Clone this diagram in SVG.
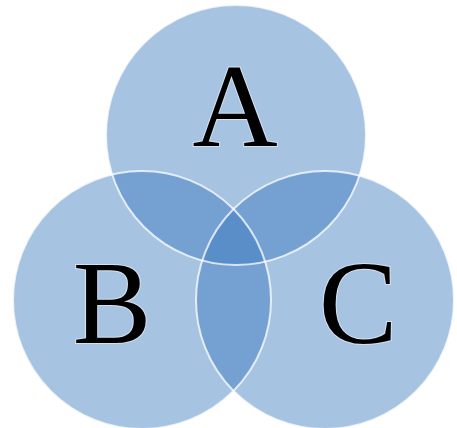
<svg xmlns="http://www.w3.org/2000/svg" width="457" height="428" viewBox="0 0 457 428">
  <style>
    .fill { fill: #3777bd; fill-opacity: 0.44; stroke: none; }
    .edge { fill: none; stroke: #ffffff; stroke-width: 2; stroke-opacity: 0.75; }
    .lbl { font-family: "Liberation Serif", "DejaVu Serif", serif; font-size: 118px; fill: #000000; text-anchor: middle; stroke: #ffffff; stroke-width: 2; stroke-opacity: 0.5; paint-order: stroke; }
  </style>
  <rect width="457" height="428" fill="#ffffff"/>
  <g id="fills">
    <circle class="fill" cx="236" cy="135" r="130"/>
    <circle class="fill" cx="142" cy="300" r="129"/>
    <circle class="fill" cx="325" cy="300" r="129"/>
  </g>
  <g id="node-A">
    <circle class="edge" cx="236" cy="135" r="130"/>
    <text class="lbl" x="235" y="146">A</text>
  </g>
  <g id="node-B">
    <circle class="edge" cx="142" cy="300" r="129"/>
    <text class="lbl" x="112" y="343">B</text>
  </g>
  <g id="node-C">
    <circle class="edge" cx="325" cy="300" r="129"/>
    <text class="lbl" x="358" y="343">C</text>
  </g>
  <g id="connectors"></g>
</svg>
